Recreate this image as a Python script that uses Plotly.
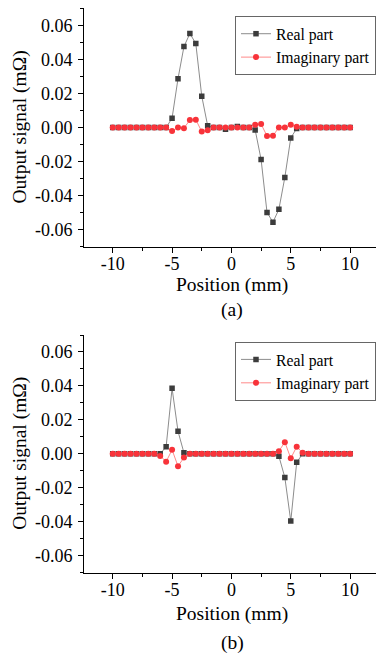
import plotly.graph_objects as go

positions = [i * 0.5 for i in range(-20, 21)]

real_a = [0]*9 + [0.0, 0.0055, 0.0287, 0.0475, 0.0552, 0.0493, 0.0184, 0.001, 0.0, 0.0, -0.001,
          0.0, 0.0006, 0.0, 0.0, -0.0014, -0.0188, -0.0499, -0.0556, -0.048, -0.0293, -0.0061, -0.0006] + [0]*9
imag_a = [0]*9 + [0.0, -0.002, 0.0, -0.0004, 0.0044, 0.0046, -0.0024, -0.0016, 0.0, 0.0, 0.0,
          0.0, 0.0, 0.0, 0.0, 0.0016, 0.002, -0.005, -0.0048, 0.0, 0.0, 0.0016, 0.0004] + [0]*9

real_b = [0]*9 + [0.0042, 0.0386, 0.0133, 0.0006] + [0]*15 + [-0.0014, -0.0139, -0.0396, -0.005] + [0]*9
imag_b = [0]*8 + [-0.0012, -0.0046, 0.0024, -0.0073, -0.0022] + [0]*15 + [0.0016, 0.0069, -0.0026, 0.0042, 0.0006] + [0]*8

ytick_vals = [-0.06, -0.04, -0.02, 0.0, 0.02, 0.04, 0.06]
ytick_text = ["-0.06", "-0.04", "-0.02", "0.00", "0.02", "0.04", "0.06"]
xtick_vals = [-10, -5, 0, 5, 10]
xtick_text = ["-10", "-5", "0", "5", "10"]

FONT = "Liberation Serif"
REAL_LINE = "#8c8c8c"
REAL_MARK = "#3c3c3c"
IMAG_LINE = "#ff8a8a"
IMAG_MARK = "#f8333a"

fig = go.Figure()

def add_panel(real, imag, xa, ya, legend):
    fig.add_trace(go.Scatter(x=positions, y=real, mode="lines+markers", name="Real part",
                             line=dict(color=REAL_LINE, width=1),
                             marker=dict(symbol="square", size=5.5, color=REAL_MARK),
                             xaxis=xa, yaxis=ya, legend=legend))
    fig.add_trace(go.Scatter(x=positions, y=imag, mode="lines+markers", name="Imaginary part",
                             line=dict(color=IMAG_LINE, width=1),
                             marker=dict(symbol="circle", size=6, color=IMAG_MARK),
                             xaxis=xa, yaxis=ya, legend=legend))

add_panel(real_a, imag_a, "x", "y", "legend")
add_panel(real_b, imag_b, "x2", "y2", "legend2")

W, H = 376, 657
xdom = [84 / W, 1.0]
ydom_a = [1 - 246.7 / H, 1 - 8.3 / H]
ydom_b = [1 - 572.7 / H, 1 - 335 / H]

xcommon = dict(range=[-12.42, 12.18], tickvals=xtick_vals, ticktext=xtick_text,
               showgrid=False, zeroline=False, showline=True, linecolor="black", linewidth=1,
               ticks="outside", ticklen=5, tickcolor="black", tickwidth=1, automargin=False,
               ticklabelstandoff=-4,
               minor=dict(ticks="outside", ticklen=3, dtick=2.5, tick0=0, tickcolor="black"),
               tickfont=dict(family=FONT, size=18, color="black"), domain=xdom)
ycommon = dict(range=[-0.07, 0.07], tickvals=ytick_vals, ticktext=ytick_text,
               showgrid=False, zeroline=False, showline=True, linecolor="black", linewidth=1,
               ticks="outside", ticklen=5, tickcolor="black", tickwidth=1, automargin=False,
               ticklabelstandoff=2,
               minor=dict(ticks="outside", ticklen=3, dtick=0.01, tick0=0, tickcolor="black"),
               tickfont=dict(family=FONT, size=18, color="black"))

legend_common = dict(x=1.0, xanchor="right", yanchor="top",
                     bgcolor="white", bordercolor="#666666", borderwidth=1,
                     font=dict(family=FONT, size=15.7, color="black"), tracegroupgap=0)

fig.update_layout(
    width=W, height=H, margin=dict(l=0, r=0, t=0, b=0),
    template="none",
    paper_bgcolor="white", plot_bgcolor="white",
    font=dict(family=FONT, color="black"),
    xaxis=dict(**xcommon, anchor="y"),
    yaxis=dict(**ycommon, domain=ydom_a, anchor="x"),
    xaxis2=dict(**xcommon, anchor="y2"),
    yaxis2=dict(**ycommon, domain=ydom_b, anchor="x2"),
    legend=dict(**legend_common, y=1 - 16 / H),
    legend2=dict(**legend_common, y=1 - 341.7 / H),
    showlegend=True,
)

xc = (84 + 380) / 2 / W
for ytitle, ylab, ycen, lab in [(285, 310, (8.3 + 246.7) / 2, "(a)"),
                                (613.5, 643, (335 + 572.7) / 2, "(b)")]:
    fig.add_annotation(text="Position (mm)", xref="paper", yref="paper", x=xc, y=1 - ytitle / H,
                       showarrow=False, xanchor="center", yanchor="middle",
                       font=dict(family=FONT, size=19.5, color="black"))
    fig.add_annotation(text=lab, xref="paper", yref="paper",
                       x=xc, y=1 - ylab / H, showarrow=False, xanchor="center", yanchor="middle",
                       font=dict(family=FONT, size=19.5, color="black"))
    fig.add_annotation(text="Output signal (mΩ)", xref="paper", yref="paper", x=20 / W,
                       y=1 - ycen / H, showarrow=False, textangle=-90, xanchor="center",
                       yanchor="middle", font=dict(family=FONT, size=19.5, color="black"))

fig.write_html("out.html")
